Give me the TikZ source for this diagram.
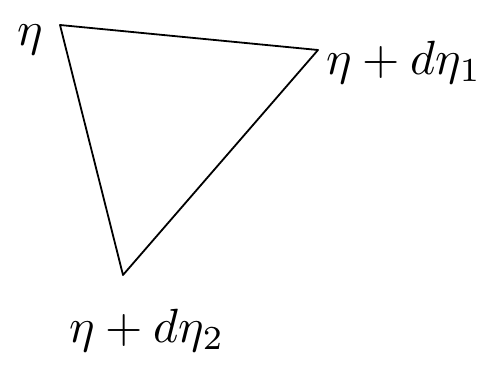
\documentclass[tikz,border=0pt]{standalone}
\begin{document}
\begin{tikzpicture}[x=1pt,y=-1pt,
  edge/.style={draw=black,line width=1.8pt,line join=round},
  lbl/.style={inner sep=0pt,scale=4.8}]
\useasboundingbox (0,0) rectangle (481,372);
\coordinate (A) at (60,25);
\coordinate (B) at (318,50);
\coordinate (C) at (123,275);
\draw[edge] (A) -- (B) -- (C) -- cycle;
\node[lbl] (la) at (30,40) {$\eta$};
\node[lbl] (lb) at (404,62) {$\eta+d\eta_1$};
\node[lbl] (lc) at (147,330) {$\eta+d\eta_2$};
\end{tikzpicture}
\end{document}
